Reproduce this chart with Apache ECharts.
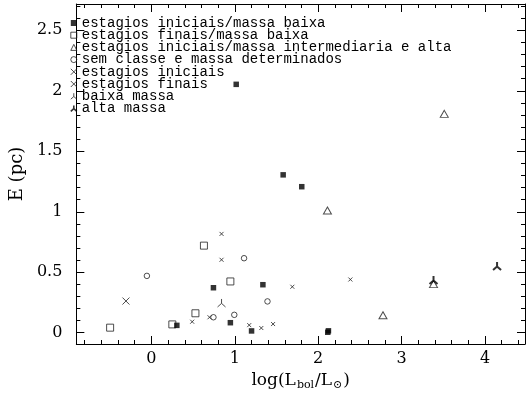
<!DOCTYPE html>
<html><head><meta charset="utf-8">
<script src="https://cdn.jsdelivr.net/npm/echarts@6/dist/echarts.min.js"></script>
<style>html,body{margin:0;padding:0;background:#fff}#c{width:526px;height:396px}</style>
</head><body><div id="c"></div>
<script>
const legendNames = [
  'estagios iniciais/massa baixa',
  'estagios finais/massa baixa',
  'estagios iniciais/massa intermediaria e alta',
  'sem classe e massa determinados',
  'estagios iniciais',
  'estagios finais',
  'baixa massa',
  'alta massa'
];
const iniciaisMassaBaixa = [[1.017,2.053],[1.58,1.305],[1.803,1.207],[0.744,0.372],[1.337,0.397],[0.947,0.083],[1.201,0.015],[0.305,0.061],[2.123,0.016],[2.115,0.004]];
const finaisMassaBaixa = [[-0.495,0.042],[0.251,0.069],[0.528,0.161],[0.630,0.72],[0.947,0.424]];
const iniciaisMassaAlta = [[2.111,1.01],[2.777,0.145],[3.512,1.809],[3.383,0.402]];
const semClasse = [[-0.054,0.47],[1.111,0.616],[0.744,0.128],[0.994,0.148],[1.392,0.259]];
const estagiosIniciais = [[0.841,0.817],[0.841,0.603],[0.489,0.091],[0.697,0.128],[1.173,0.063],[1.318,0.039],[1.459,0.072],[1.69,0.38],[2.386,0.44]];
const estagiosFinais = [[-0.305,0.262]];
const baixaMassa = [[0.841,0.246]];
const altaMassa = [[3.383,0.435],[4.145,0.551]];

const xTicks = [0,1,2,3,4];
const xMinorTicks = [-0.8,-0.6,-0.4,-0.2,0.2,0.4,0.6,0.8,1.2,1.4,1.6,1.8,2.2,2.4,2.6,2.8,3.2,3.4,3.6,3.8,4.2,4.4];
const yTicks = [0,0.5,1,1.5,2,2.5];
const yMinorTicks = [0.1,0.2,0.3,0.4,0.6,0.7,0.8,0.9,1.1,1.2,1.3,1.4,1.6,1.7,1.8,1.9,2.1,2.2,2.3,2.4,2.6,2.7];

const X_MIN = -0.9, X_MAX = 4.48, Y_MIN = -0.093, Y_MAX = 2.717;

const SYM_X = 'path://M0,0L10,10M0,10L10,0';
const SYM_TRI = 'path://M5,0L5,5.5L0,10M5,5.5L10,10';
const openStyle = {color:'rgba(0,0,0,0)', borderColor:'#222', borderWidth:1};
const boldStyle = {color:'rgba(0,0,0,0)', borderColor:'#000', borderWidth:2};
const filledStyle = {color:'#000', borderWidth:0};

const chart = echarts.init(document.getElementById('c'), null, {renderer:'canvas'});

function sc(name, data, symbol, size, itemStyle){
  return {type:'scatter', name, data, symbol, symbolSize:size, itemStyle,
    xAxisIndex:0, yAxisIndex:0, silent:true, emphasis:{disabled:true}, animation:false};
}

const icons = ['rect','rect','triangle','circle',SYM_X,SYM_X,SYM_TRI,SYM_TRI];
const iconStyles = [filledStyle, openStyle, openStyle, openStyle, openStyle, openStyle, openStyle,
  {color:'rgba(0,0,0,0)', borderColor:'#000', borderWidth:1.6}];

function xAx(pos, major){
  return {type:'value', position:pos, min:X_MIN, max:X_MAX, splitLine:{show:false},
    axisLine:{show:major, onZero:false, lineStyle:{color:'#000', width:1}},
    axisTick:{show:true, inside:true, length: major?8:4, customValues: major?xTicks:xMinorTicks, lineStyle:{color:'#000', width:1}},
    axisLabel:{show:false}};
}
function yAx(pos, major){
  return {type:'value', position:pos, min:Y_MIN, max:Y_MAX, splitLine:{show:false},
    axisLine:{show:major, onZero:false, lineStyle:{color:'#000', width:1}},
    axisTick:{show:true, inside:true, length: major?8:4, customValues: major?yTicks:yMinorTicks, lineStyle:{color:'#000', width:1}},
    axisLabel:{show:false}};
}

const xMain = xAx('bottom', true);
xMain.axisLabel = {show:true, customValues:xTicks, margin:7, fontFamily:'DejaVu Serif', fontSize:16, color:'#000'};
xMain.name = '{a|log(L}{s|bol}{a|/L}{s|⊙}{a|)}';
xMain.nameLocation = 'middle';
xMain.nameGap = 27;
xMain.nameTextStyle = {rich:{
  a:{fontFamily:'DejaVu Serif', fontSize:17, color:'#000'},
  s:{fontFamily:'DejaVu Serif', fontSize:11, color:'#000', padding:[9,1,0,1]}
}};

const yMain = yAx('left', true);
yMain.axisLabel = {show:true, customValues:yTicks, margin:14, fontFamily:'DejaVu Serif', fontSize:16, color:'#000'};
yMain.name = 'E (pc)';
yMain.nameLocation = 'middle';
yMain.nameGap = 35;
yMain.nameRotate = 90;
yMain.nameTextStyle = {fontFamily:'DejaVu Serif', fontSize:18, color:'#000'};

chart.setOption({
  animation:false,
  backgroundColor:'#fff',
  grid:{left:67, top:4, width:458, height:346},
  legend:{
    orient:'vertical', left:70, top:16, padding:0, itemGap:-1.8, itemWidth:6, itemHeight:6,
    selectedMode:false,
    textStyle:{fontFamily:'Liberation Mono', fontSize:14, color:'#000', lineHeight:12},
    data: legendNames.map((n,i)=>({name:n, icon:icons[i], itemStyle:iconStyles[i]}))
  },
  xAxis:[xMain, xAx('bottom', false), xAx('top', true), xAx('top', false)],
  yAxis:[yMain, yAx('left', false), yAx('right', true), yAx('right', false)],
  series:[
    sc(legendNames[1], finaisMassaBaixa, 'rect', 7, openStyle),
    sc(legendNames[0], iniciaisMassaBaixa, 'rect', 5.5, filledStyle),
    sc(legendNames[2], iniciaisMassaAlta, 'triangle', [8,7], openStyle),
    sc(legendNames[3], semClasse, 'circle', 5.5, openStyle),
    sc(legendNames[4], estagiosIniciais, SYM_X, 4, openStyle),
    sc(legendNames[5], estagiosFinais, SYM_X, 7, openStyle),
    sc(legendNames[6], baixaMassa, SYM_TRI, 8, openStyle),
    sc(legendNames[7], altaMassa, SYM_TRI, 8, boldStyle)
  ]
});
</script></body></html>
